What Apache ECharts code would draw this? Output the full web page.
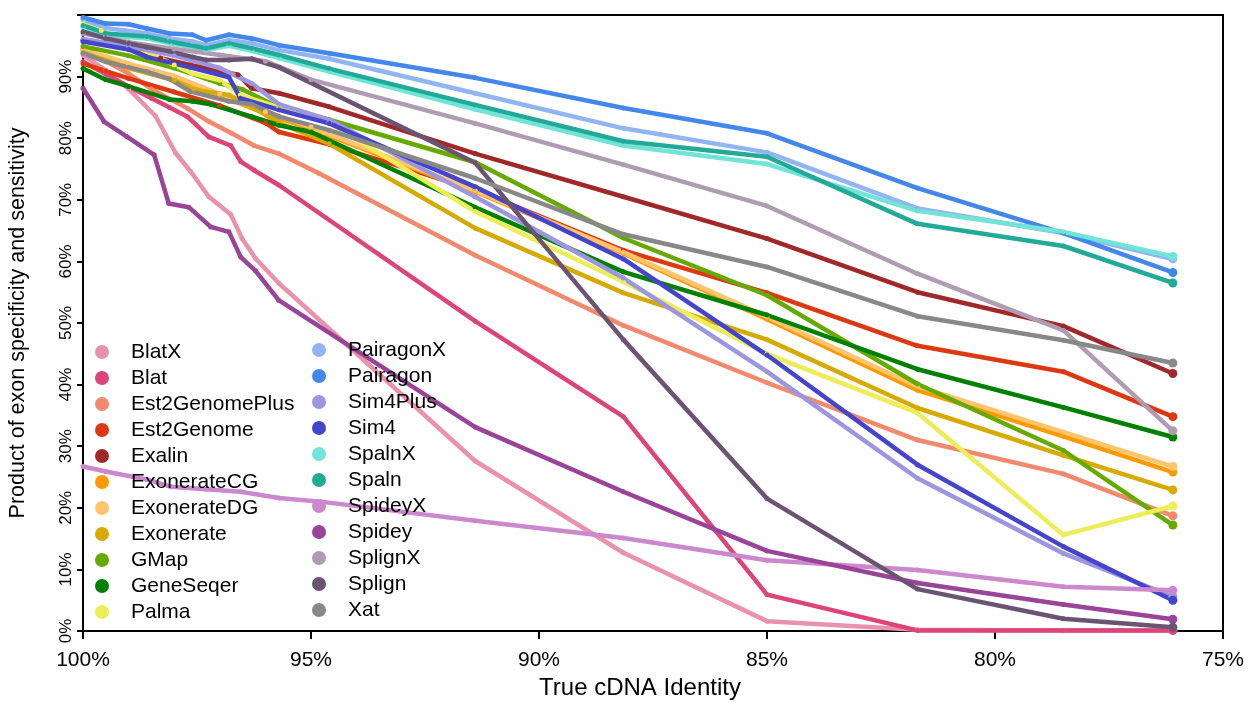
<!DOCTYPE html>
<html>
<head>
<meta charset="utf-8">
<script src="https://cdn.jsdelivr.net/npm/echarts@6/dist/echarts.min.js"></script>
<style>
  html, body { margin: 0; padding: 0; background: #fff; }
  #chart { width: 1249px; height: 702px; }
</style>
</head>
<body>
<div id="chart"></div>
<script>
// [true cDNA identity %, product of exon specificity and sensitivity %]
var blatX = [[100,93.5],[99.5,91.0],[99,88.0],[98.41,83.6],[97.97,77.6],[97.64,74.6],[97.24,70.5],[96.76,67.6],[96.51,63.7],[96.22,60.5],[95.71,56.5],[91.4,27.6],[88.15,12.7],[85,1.6],[81.7,0.2],[78.5,0.1],[76.1,0.1]]
var blat = [[100,92.4],[99.5,90.4],[99,88.4],[98.5,86.5],[98.1,85.0],[97.71,83.5],[97.24,80.2],[96.76,78.8],[96.54,76.2],[96.25,74.8],[95.71,72.4],[91.4,50.3],[88.15,34.8],[85,5.9],[81.7,0.1],[78.5,0.1],[76.1,0.1]]
var est2GenomePlus = [[100,94.5],[99.5,92.5],[99,90.5],[98.5,88.0],[97.7,84.8],[97.24,82.7],[96.74,80.8],[96.25,78.8],[95.71,77.5],[94.83,74.3],[91.4,61.0],[88.15,49.6],[85,40.3],[81.7,31.0],[78.5,25.5],[76.1,18.7]]
var est2Genome = [[100,92.1],[99.5,90.9],[99,89.7],[98,87.5],[97,85.3],[96,82.5],[95.7,81.0],[94.6,79.0],[91.4,71.6],[88.15,61.8],[85,54.9],[81.7,46.3],[78.5,42.1],[76.1,34.8]]
var exalin = [[100,95.9],[99,94.5],[98.3,93.0],[97.65,91.9],[96.6,90.3],[96.3,88.1],[95.7,87.3],[94.6,85.1],[91.4,77.5],[88.15,70.5],[85,63.7],[81.7,55.0],[78.5,49.5],[76.1,41.8]]
var exonerateCG = [[100,94.3],[99,91.9],[98,89.9],[97,87.0],[96,84.0],[95,81.5],[91.4,71.3],[88.15,61.3],[85,50.6],[81.7,39.1],[78.5,31.6],[76.1,25.8]]
var exonerateDG = [[100,94.5],[99,92.1],[98,90.1],[97,87.2],[96,84.3],[95,81.8],[91.4,71.5],[88.15,61.5],[85,51.0],[81.7,39.7],[78.5,32.3],[76.1,26.7]]
var exonerate = [[100,93.9],[99,91.4],[98,89.4],[97.6,87.9],[96.8,87.0],[96.3,85.1],[95.7,82.5],[94.6,79.1],[91.4,65.4],[88.15,54.9],[85,47.3],[81.7,36.2],[78.5,28.5],[76.1,22.9]]
var gMap = [[100,94.9],[99,93.4],[98,91.4],[97,88.9],[96.5,87.9],[95.7,85.0],[94.6,83.0],[91.4,76.1],[88.15,63.8],[85,54.5],[81.7,40.1],[78.5,29.3],[76.1,17.2]]
var geneSeqer = [[100,91.3],[99.5,89.5],[99,88.4],[98.1,86.3],[97.6,86.0],[97.2,85.5],[96.3,83.5],[95.7,82.1],[95,81.0],[91.4,68.8],[88.15,58.3],[85,51.3],[81.7,42.5],[78.5,36.3],[76.1,31.5]]
var palma = [[100,98.9],[99.6,97.5],[99,95.4],[98,91.9],[97.6,90.5],[97,89.4],[96.55,87.0],[95.7,85.0],[94.6,82.5],[91.4,68.1],[88.15,56.7],[85,45.0],[81.7,35.4],[78.5,15.6],[76.1,20.3]]
var pairagonX = [[100,99.3],[99.5,97.9],[98.6,97.0],[98.1,96.2],[97.6,95.7],[97.3,95.1],[96.8,95.9],[96.3,95.4],[95.7,94.3],[94.6,92.9],[91.4,87.3],[88.15,81.6],[85,77.7],[81.7,68.6],[78.5,64.6],[76.1,60.4]]
var pairagon = [[100,99.6],[99.5,98.6],[99,98.5],[98.6,97.8],[98.1,97.0],[97.6,96.8],[97.3,95.9],[96.8,96.8],[96.3,96.2],[95.7,95.1],[94.6,93.8],[91.4,89.8],[88.15,84.9],[85,80.8],[81.7,71.9],[78.5,64.6],[76.1,58.2]]
var sim4Plus = [[100,96.1],[99,94.9],[98,93.4],[97,91.4],[96.3,88.9],[95.7,85.5],[94.6,83.0],[91.4,70.5],[88.15,57.3],[85,42.1],[81.7,24.8],[78.5,12.6],[76.1,5.6]]
var sim4 = [[100,95.7],[99,94.4],[98.6,93.2],[97.65,91.5],[96.8,89.9],[96.55,86.5],[95.7,84.6],[94.6,82.4],[91.4,72.1],[88.15,60.4],[85,44.8],[81.7,27.0],[78.5,13.7],[76.1,5.0]]
var spalnX = [[100,98.0],[99.5,96.7],[98.6,96.2],[98.1,95.4],[97.3,94.3],[96.8,95.0],[96.3,94.2],[95.7,93.0],[94.6,90.8],[91.4,84.7],[88.15,78.8],[85,75.8],[81.7,68.2],[78.5,64.8],[76.1,60.8]]
var spaln = [[100,98.3],[99.5,97.0],[98.6,96.5],[98.1,95.7],[97.3,94.6],[96.8,95.4],[96.3,94.6],[95.7,93.5],[94.6,91.3],[91.4,85.4],[88.15,79.5],[85,77.0],[81.7,66.1],[78.5,62.5],[76.1,56.5]]
var spideyX = [[100,26.7],[99.5,25.9],[98.6,24.6],[98.07,23.4],[97.3,23.0],[96.54,22.6],[95.7,21.6],[94.79,21.0],[91.4,17.9],[88.15,15.1],[85,11.5],[81.7,9.9],[78.5,7.2],[76.1,6.6]]
var spidey = [[100,88.1],[99.54,82.7],[99.03,80.2],[98.44,77.3],[98.12,69.4],[97.68,68.8],[97.2,65.6],[96.8,64.8],[96.54,60.7],[96.22,58.5],[95.71,53.7],[91.4,33.1],[88.15,22.6],[85,13.0],[81.7,7.8],[78.5,4.3],[76.1,1.9]]
var splignX = [[100,97.0],[99,95.6],[98,94.5],[97,93.5],[96,92.5],[95,89.5],[91.4,82.4],[88.15,75.7],[85,69.0],[81.7,58.0],[78.5,48.8],[76.1,32.5]]
var splign = [[100,97.3],[99.5,96.2],[99,95.4],[98.6,94.8],[98.1,94.1],[97.6,93.2],[97.3,92.7],[96.8,92.7],[96.3,92.9],[95.7,91.5],[91.4,76.0],[88.15,47.3],[85,21.5],[81.7,6.8],[78.5,2.0],[76.1,0.6]]
var xat = [[100,93.8],[99.5,92.4],[99,91.5],[98.6,90.8],[98.1,89.6],[97.65,87.6],[96.8,86.0],[96.3,85.5],[95.7,83.5],[94.6,81.3],[91.4,73.5],[88.15,64.4],[85,59.1],[81.7,51.1],[78.5,47.2],[76.1,43.5]]

var names1 = ['BlatX', 'Blat', 'Est2GenomePlus', 'Est2Genome', 'Exalin', 'ExonerateCG', 'ExonerateDG', 'Exonerate', 'GMap', 'GeneSeqer', 'Palma']
var names2 = ['PairagonX', 'Pairagon', 'Sim4Plus', 'Sim4', 'SpalnX', 'Spaln', 'SpideyX', 'Spidey', 'SplignX', 'Splign', 'Xat']
var values = [blatX, blat, est2GenomePlus, est2Genome, exalin, exonerateCG, exonerateDG, exonerate, gMap, geneSeqer, palma,
  pairagonX, pairagon, sim4Plus, sim4, spalnX, spaln, spideyX, spidey, splignX, splign, xat]
var colors = ['#EA92AC', '#DD4477', '#F2896C', '#DC3912', '#A02828', '#FF9900', '#FFC46C', '#D6AA00', '#66AA00', '#008000', '#EDED58',
  '#90B5F2', '#4487EA', '#9C96E0', '#4444CC', '#70E4D6', '#22AA99', '#CC88CC', '#994499', '#B09CB2', '#6B5472', '#888888']

var font = 'Liberation Sans, Arial, sans-serif'
var names = names1.concat(names2)

var chart = echarts.init(document.getElementById('chart'))

var legendBase = {
  orient: 'vertical',
  icon: 'circle',
  itemWidth: 14,
  itemHeight: 14,
  itemGap: 4,
  textStyle: { fontFamily: font, fontSize: 21, color: '#000', lineHeight: 22, padding: [0, 0, 0, 17] }
}

var option = {
  animation: false,
  color: colors,
  grid: { left: 83, right: 26, top: 15, bottom: 71, show: true, borderColor: '#000', borderWidth: 2, outerBoundsMode: 'none' },
  legend: [
    Object.assign({ data: names1, left: 90, top: 336 }, legendBase),
    Object.assign({ data: names2, left: 307, top: 334 }, legendBase)
  ],
  xAxis: {
    type: 'value',
    min: 75,
    max: 100,
    interval: 5,
    inverse: true,
    name: 'True cDNA Identity',
    nameLocation: 'middle',
    nameGap: 45,
    nameTextStyle: { fontFamily: font, fontSize: 24, color: '#000', padding: [0, 26, 0, 0] },
    axisLine: { lineStyle: { color: '#000', width: 2 } },
    axisTick: { length: 8, lineStyle: { color: '#000', width: 2 } },
    axisLabel: { fontFamily: font, fontSize: 21, color: '#000', margin: 19, formatter: function (v) { return v + '%' } },
    splitLine: { show: false }
  },
  yAxis: {
    type: 'value',
    min: 0,
    max: 100,
    interval: 10,
    name: 'Product of exon specificity and sensitivity',
    nameLocation: 'middle',
    nameGap: 54,
    nameTextStyle: { fontFamily: font, fontSize: 21.5, color: '#000' },
    axisLine: { lineStyle: { color: '#000', width: 2 } },
    axisTick: { length: 6, lineStyle: { color: '#000', width: 2 } },
    axisLabel: {
      fontFamily: font, fontSize: 17, color: '#000', rotate: 90, margin: 8,
      formatter: function (v) { return v >= 100 ? '' : v + '%' }
    },
    splitLine: { show: false }
  },
  series: names.map(function (n, i) {
    var d = values[i]
    return {
      name: n,
      type: 'line',
      data: d,
      symbol: 'circle',
      symbolSize: function (val, p) { return p.dataIndex === d.length - 1 ? 9 : 5 },
      lineStyle: { width: 4.5, color: colors[i] },
      itemStyle: { color: colors[i] },
      emphasis: { disabled: true }
    }
  })
}

chart.setOption(option)
</script>
</body>
</html>
